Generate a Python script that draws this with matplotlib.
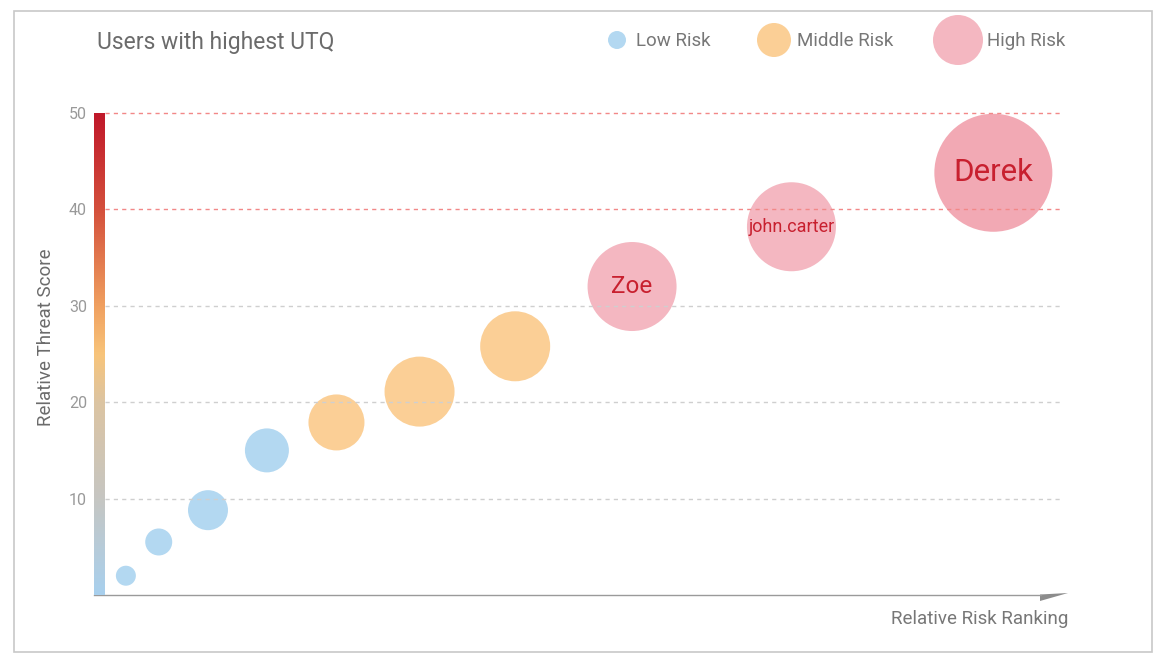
import numpy as np
import matplotlib.pyplot as plt
from matplotlib.colors import LinearSegmentedColormap
from matplotlib.patches import Rectangle, Circle, Polygon

plt.rcParams['font.family'] = ['Roboto', 'DejaVu Sans']

# data
rank = [3.3, 6.7, 11.8, 17.9, 25.1, 33.7, 43.6, 55.7, 72.2, 93.1]
threat = [2.0, 5.5, 8.8, 15.0, 17.9, 21.1, 25.8, 32.0, 38.2, 43.8]
utq = [10, 13.5, 20, 22, 28, 35, 35, 44.5, 44.5, 59]
risk = ['low', 'low', 'low', 'low', 'mid', 'mid', 'mid', 'high', 'high', 'high']
names = ['', '', '', '', '', '', '', 'Zoe', 'john.carter', 'Derek']
yticks = [10, 20, 30, 40, 50]

colors = {'low': '#B3D8F1', 'mid': '#FBCF96', 'high': '#F4B7C1'}
risk_labels = {'low': 'Low Risk', 'mid': 'Middle Risk', 'high': 'High Risk'}

W, H = 1165, 663
fig = plt.figure(figsize=(W / 100, H / 100), dpi=100)

# background overlay in pixel coords
bg = fig.add_axes([0, 0, 1, 1], zorder=0)
bg.set_xlim(0, W)
bg.set_ylim(H, 0)
bg.axis('off')
bg.add_patch(Rectangle((14, 11), 1138, 641, fill=False, ec='#C8C8C8', lw=1.2))
bg.text(97, 42, 'Users with highest UTQ', fontsize=16.5, color='#6B6B6B', va='center')

# legend
leg = [('low', 617, 9, 636), ('mid', 774, 17, 797), ('high', 958, 25, 987)]
for key, cx, r, tx in leg:
    bg.add_patch(Circle((cx, 40), r, color=colors[key], lw=0))
    bg.text(tx, 41, risk_labels[key], fontsize=13.5, color='#777777', va='center')

# x axis arrow wedge
bg.add_patch(Polygon([(1040, 594.5), (1068, 593), (1040, 601)], closed=True,
                     color='#8C8C8C', lw=0))
bg.text(1068, 619, 'Relative Risk Ranking', fontsize=13.5, color='#777777',
        ha='right', va='center')

# main axes
left, right, top, bottom = 94, 1060, 113, 595
ax = fig.add_axes([left / W, (H - bottom) / H, (right - left) / W, (bottom - top) / H],
                  zorder=1)
ax.set_facecolor('none')
ax.set_xlim(0, 100)
ax.set_ylim(0, 50)

for y in yticks:
    c = '#F28888' if y >= 40 else '#CFCFCF'
    ax.plot([1.1, 100], [y, y], ls=(0, (3, 3)), color=c, lw=1, zorder=3, clip_on=False)

sizes = [(2 * r * 0.72) ** 2 for r in utq]
cols = [colors[k] for k in risk]
cols[-1] = '#F2A9B4'
ax.scatter(rank, threat, s=sizes, c=cols, linewidths=0, zorder=2, clip_on=False)

label_sizes = {'Zoe': 17.5, 'john.carter': 13, 'Derek': 22.5}
for x, y, n in zip(rank, threat, names):
    if n:
        ax.text(x, y, n, ha='center', va='center', color='#C8202F',
                fontsize=label_sizes[n], zorder=4)

ax.set_yticks(yticks)
ax.set_xticks([])
ax.tick_params(axis='y', length=0, pad=5, labelcolor='#999999', labelsize=11.5)
for s in ['top', 'right', 'left']:
    ax.spines[s].set_visible(False)
ax.spines['bottom'].set_color('#9A9A9A')
ax.spines['bottom'].set_linewidth(1)
ax.spines['bottom'].set_bounds(0, 98)
ax.set_ylabel('Relative Threat Score', fontsize=13.5, color='#6B6B6B')
ax.yaxis.set_label_coords(-0.040, 0.535)

# gradient bar along y axis
cax = fig.add_axes([left / W, (H - bottom) / H, 10 / W, (bottom - top) / H], zorder=2)
cmap = LinearSegmentedColormap.from_list('threat', [
    (0.0, '#A8D0EE'), (0.2, '#C6C6C2'), (0.4, '#DCC4A2'), (0.5, '#F8C47A'),
    (0.6, '#F0A060'), (0.8, '#D4503C'), (1.0, '#C0182A')])
cax.imshow(np.linspace(0, 1, 256).reshape(-1, 1), aspect='auto', cmap=cmap,
           origin='lower', extent=[0, 1, 0, 1])
cax.axis('off')

fig.savefig('out.png', dpi=100)
